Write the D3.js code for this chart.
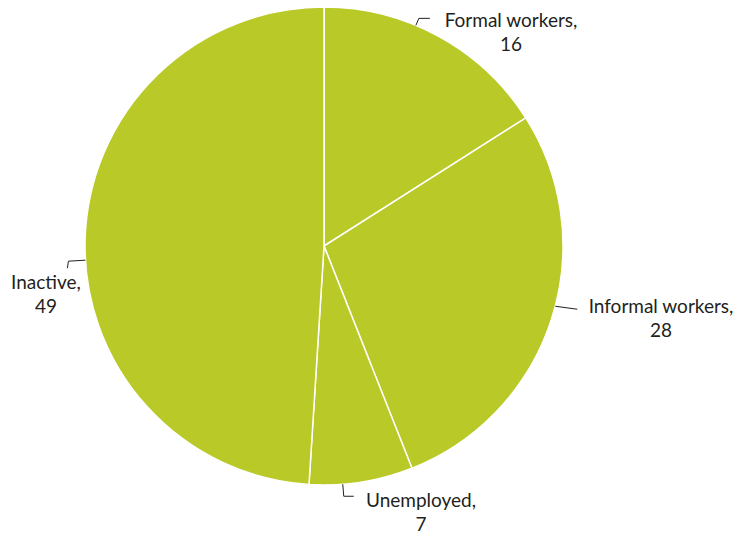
<!DOCTYPE html>
<html>
<head>
<meta charset="utf-8">
<script src="https://cdn.jsdelivr.net/npm/d3@7"></script>
<style>
  body { margin: 0; background: #fff; }
  text { font-family: Lato, "Open Sans", sans-serif; fill: #231f20; }
</style>
</head>
<body>
<div id="chart"></div>
<script>
// Дані
const categories = ['Formal workers', 'Informal workers', 'Unemployed', 'Inactive'];
const values = [16, 28, 7, 49];

// Розмітка підписів (кут початку лінії, злам, позиція тексту)
const labelLayout = [
    { angle: 22.6, elbow: [[3, -7], [14, -7]], x: 511, y: 27 },
    { angle: 104.6, elbow: [[22, 3]], x: 661, y: 313 },
    { angle: 175.5, elbow: [[1, 12], [11, 12]], x: 421, y: 507 },
    { angle: 266.6, elbow: [[-17, 1], [-18, 8]], x: 46, y: 289 }
];

const width = 741, height = 535;
const cx = 324, cy = 246, radius = 239;

const svg = d3.select('#chart')
    .append('svg')
    .attr('width', width)
    .attr('height', height);

const g = svg.append('g').attr('transform', `translate(${cx},${cy})`);

const data = categories.map((c, i) => ({ name: c, value: values[i] }));

const pie = d3.pie().sort(null).value(d => d.value);
const arc = d3.arc().innerRadius(0).outerRadius(radius);

g.selectAll('path')
    .data(pie(data))
    .enter()
    .append('path')
    .attr('d', arc)
    .style('fill', '#b9c927')
    .style('stroke', '#fff')
    .style('stroke-width', 1.5);

// Лінії-виноски та підписи
data.forEach((d, i) => {
    const l = labelLayout[i];
    const a = l.angle * Math.PI / 180;
    const x0 = cx + radius * Math.sin(a);
    const y0 = cy - radius * Math.cos(a);
    const pts = [[x0, y0]].concat(l.elbow.map(p => [x0 + p[0], y0 + p[1]]));

    svg.append('path')
        .attr('d', d3.line()(pts))
        .style('fill', 'none')
        .style('stroke', '#231f20')
        .style('stroke-width', 1);

    const t = svg.append('text')
        .attr('x', l.x)
        .attr('y', l.y)
        .attr('text-anchor', 'middle')
        .style('font-size', '19px');
    t.append('tspan').attr('x', l.x).text(d.name + ',');
    t.append('tspan').attr('x', l.x).attr('dy', 24).text(d.value);
});
</script>
</body>
</html>
